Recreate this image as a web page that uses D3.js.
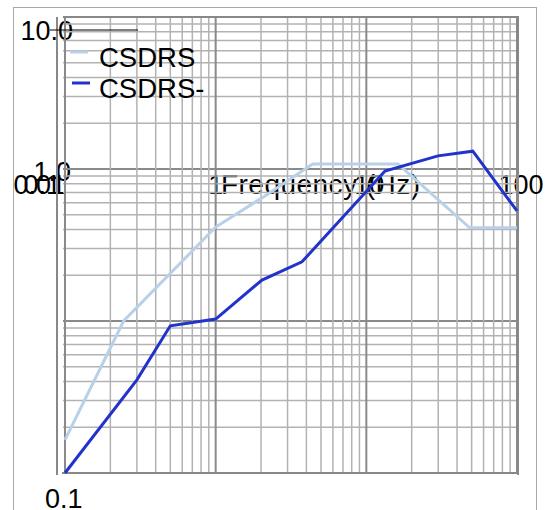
<!DOCTYPE html>
<html><head><meta charset="utf-8">
<script src="https://cdn.jsdelivr.net/npm/d3@7"></script>
<style>body{margin:0;background:#fff}svg{display:block}text{font-family:"Liberation Sans",Arial,sans-serif;fill:#000}</style>
</head><body><svg id="c" width="553" height="510"></svg>
<script>
// Data
const seriesNames = ["CSDRS", "CSDRS-"];
const freqLight = [0.1, 0.245, 1.0, 2.1, 4.4, 16.2, 48.6, 100];
const valLight  = [0.0165, 0.10, 0.415, 0.66, 1.08, 1.08, 0.41, 0.41];
const freqDark  = [0.1, 0.30, 0.50, 1.0, 2.03, 3.74, 13.3, 29.9, 50.9, 100];
const valDark   = [0.01, 0.041, 0.093, 0.103, 0.186, 0.245, 0.97, 1.22, 1.31, 0.53];
const xTickLabels = ["0.01", "0.1", "1", "10", "100"];
const yTickLabels = ["10.0", "1.0", "0.1"];
const xTitle = "Frequency (Hz)";

const svg = d3.select("#c");
const x = d3.scaleLog().domain([0.1, 100]).range([65, 517]);
const y = d3.scaleLog().domain([0.01, 10]).range([473, 17]);

// outer frame
svg.append("rect").attr("x", 13.5).attr("y", 7.5).attr("width", 523).attr("height", 520)
  .attr("fill", "none").attr("stroke", "#a8a8a8").attr("stroke-width", 1);

// texts (drawn under the grid)
const tg = svg.append("g").style("font-size", "27px");
tg.append("text").attr("x", 73).attr("y", 40).attr("text-anchor", "end").text(yTickLabels[0]);
tg.append("text").attr("x", 71).attr("y", 181).attr("text-anchor", "end").text(yTickLabels[1]);
tg.append("text").attr("x", 45).attr("y", 508).text(yTickLabels[2]);
tg.append("text").attr("x", 66).attr("y", 194).attr("text-anchor", "end").text(xTickLabels[0]);
tg.append("text").attr("x", 61).attr("y", 194).attr("text-anchor", "end").text(xTickLabels[1]);
tg.append("text").attr("x", x(1)).attr("y", 194).attr("text-anchor", "middle").text(xTickLabels[2]);
tg.append("text").attr("x", x(10) + 3).attr("y", 194).attr("text-anchor", "middle").text(xTickLabels[3]);
tg.append("text").attr("x", x(100) + 4).attr("y", 194).attr("text-anchor", "middle").text(xTickLabels[4]);
tg.append("text").attr("x", 221).attr("y", 194).style("font-size", "28px").attr("textLength", 199).text(xTitle);

// grid
const gg = svg.append("g");
const xt = x.ticks(), yt = y.ticks();
const isMajor = v => Math.abs(Math.log10(v) - Math.round(Math.log10(v))) < 1e-6;
gg.selectAll("line.hx").data(yt).join("line")
  .attr("x1", 63).attr("x2", 517).attr("y1", d => y(d)).attr("y2", d => y(d))
  .attr("stroke", d => isMajor(d) ? "#8a8a8a" : "#b2b2b2").attr("stroke-width", d => isMajor(d) ? 2 : 1.5);
gg.selectAll("line.vx").data(xt).join("line")
  .attr("y1", 17).attr("y2", 473).attr("x1", d => x(d)).attr("x2", d => x(d))
  .attr("stroke", d => isMajor(d) ? "#8a8a8a" : "#b2b2b2").attr("stroke-width", d => isMajor(d) ? 2 : 1.5);
// axes frame
gg.append("line").attr("x1", 57).attr("x2", 57).attr("y1", 17).attr("y2", 475).attr("stroke", "#888").attr("stroke-width", 2);
gg.append("line").attr("x1", 62).attr("x2", 519).attr("y1", 473).attr("y2", 473).attr("stroke", "#888").attr("stroke-width", 2);
gg.append("line").attr("x1", 518).attr("x2", 518).attr("y1", 16).attr("y2", 475).attr("stroke", "#888").attr("stroke-width", 2);
gg.append("line").attr("x1", 63).attr("x2", 519).attr("y1", 17).attr("y2", 17).attr("stroke", "#888").attr("stroke-width", 2);

// black line near top
svg.append("line").attr("x1", 50).attr("x2", 138).attr("y1", 30).attr("y2", 30).attr("stroke", "#000").attr("stroke-width", 1.2);

// legend
const colors = ["#b8d0e8", "#2233cc"];
const lg = svg.append("g").style("font-size", "27.5px");
[[70, 52, 67], [72, 83, 98]].forEach((p, i) => {
  lg.append("line").attr("x1", p[0]).attr("x2", p[0] + 18).attr("y1", p[1]).attr("y2", p[1])
    .attr("stroke", colors[i]).attr("stroke-width", 3);
  lg.append("text").attr("x", 99).attr("y", p[2]).text(seriesNames[i]);
});

// series
const line = d3.line().x(d => x(d[0])).y(d => y(d[1]));
svg.append("path").datum(d3.zip(freqLight, valLight)).attr("d", line)
  .attr("fill", "none").attr("stroke", colors[0]).attr("stroke-width", 3);
svg.append("path").datum(d3.zip(freqDark, valDark)).attr("d", line)
  .attr("fill", "none").attr("stroke", colors[1]).attr("stroke-width", 3);
</script></body></html>
